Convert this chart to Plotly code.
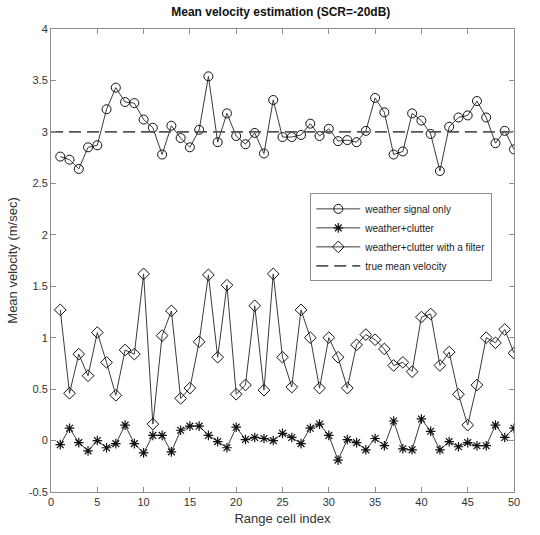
import plotly.graph_objects as go

range_cells = list(range(1, 51))

weather_only = [2.76, 2.73, 2.64, 2.85, 2.87, 3.22, 3.43, 3.29, 3.28, 3.12,
                3.04, 2.78, 3.06, 2.94, 2.85, 3.02, 3.54, 2.90, 3.18, 2.96,
                2.88, 2.99, 2.79, 3.31, 2.95, 2.95, 2.97, 3.08, 2.96, 3.03,
                2.91, 2.92, 2.90, 3.01, 3.33, 3.19, 2.78, 2.81, 3.18, 3.11,
                2.98, 2.62, 3.05, 3.14, 3.16, 3.30, 3.14, 2.89, 3.01, 2.83]

weather_clutter = [-0.04, 0.12, -0.02, -0.10, 0.00, -0.07, -0.03, 0.15, -0.03, -0.12,
                   0.05, 0.05, -0.11, 0.10, 0.14, 0.14, 0.05, -0.01, -0.07, 0.13,
                   0.01, 0.03, 0.02, 0.00, 0.07, 0.03, -0.03, 0.12, 0.16, 0.05,
                   -0.19, 0.01, -0.02, -0.09, 0.02, -0.05, 0.19, -0.08, -0.09, 0.21,
                   0.09, -0.09, -0.01, -0.06, -0.02, -0.05, -0.05, 0.15, 0.03, 0.12]

weather_filter = [1.27, 0.46, 0.84, 0.63, 1.05, 0.76, 0.44, 0.88, 0.84, 1.62,
                  0.16, 1.02, 1.26, 0.41, 0.51, 0.96, 1.61, 0.81, 1.51, 0.45,
                  0.54, 1.31, 0.49, 1.62, 0.81, 0.52, 1.27, 1.00, 0.51, 1.00,
                  0.81, 0.51, 0.93, 1.03, 0.98, 0.89, 0.73, 0.76, 0.67, 1.20,
                  1.23, 0.73, 0.86, 0.45, 0.15, 0.54, 1.00, 0.95, 1.08, 0.85]

true_mean_velocity = 3.0
x_limits = [0, 50]
y_limits = [-0.5, 4]
x_ticks = list(range(0, 51, 5))
y_ticks = [-0.5, 0, 0.5, 1, 1.5, 2, 2.5, 3, 3.5, 4]
y_tick_labels = ["-0.5", "0", "0.5", "1", "1.5", "2", "2.5", "3", "3.5", "4"]

LINE = "#3a3a3a"
MK = "#111111"
FONT = "Liberation Sans, Arial, sans-serif"

fig = go.Figure()
fig.add_trace(go.Scatter(
    x=range_cells, y=weather_only, mode="lines+markers", name="weather signal only",
    line=dict(color=LINE, width=1),
    marker=dict(symbol="circle-open", size=9, color=MK, line=dict(width=1, color=MK))))
fig.add_trace(go.Scatter(
    x=range_cells, y=weather_clutter, mode="lines+markers", name="weather+clutter",
    line=dict(color=LINE, width=1),
    marker=dict(symbol="asterisk-open", size=8, color=MK, line=dict(width=1.2, color=MK))))
fig.add_trace(go.Scatter(
    x=range_cells, y=weather_filter, mode="lines+markers", name="weather+clutter with a filter",
    line=dict(color=LINE, width=1),
    marker=dict(symbol="diamond-open", size=9, color=MK, line=dict(width=1, color=MK))))
fig.add_trace(go.Scatter(
    x=x_limits, y=[true_mean_velocity] * len(x_limits), mode="lines", name="true mean velocity",
    line=dict(color="#555555", width=1.6, dash="12px,6px")))

axis_common = dict(
    showgrid=False, zeroline=False, showline=True, linecolor="#8c8c8c", linewidth=1,
    mirror="allticks", ticks="inside", ticklen=5, tickcolor="#8c8c8c",
    tickfont=dict(family=FONT, size=11, color="#333333"),
)

fig.update_xaxes(range=x_limits, tickvals=x_ticks,
                 title=dict(text="Range cell index", font=dict(family=FONT, size=13, color="#333333"), standoff=6),
                 **axis_common)
fig.update_yaxes(range=y_limits, tickvals=y_ticks, ticktext=y_tick_labels,
                 title=dict(text="Mean velocity (m/sec)", font=dict(family=FONT, size=13, color="#333333"), standoff=8),
                 **axis_common)

fig.update_layout(
    width=540, height=535, autosize=False,
    margin=dict(l=48, r=26, t=29, b=42),
    paper_bgcolor="white", plot_bgcolor="white",
    title=dict(text="<b>Mean velocity estimation (SCR=-20dB)</b>",
               font=dict(family=FONT, size=12, color="#111111"),
               x=0.52, xanchor="center", y=0.985, yanchor="top"),
    legend=dict(x=0.56, y=0.645, xanchor="left", yanchor="top",
                bgcolor="white", bordercolor="#8c8c8c", borderwidth=1,
                font=dict(family=FONT, size=10, color="#222222"),
                tracegroupgap=0, itemwidth=44),
    showlegend=True,
)

fig.write_html("out.html")
